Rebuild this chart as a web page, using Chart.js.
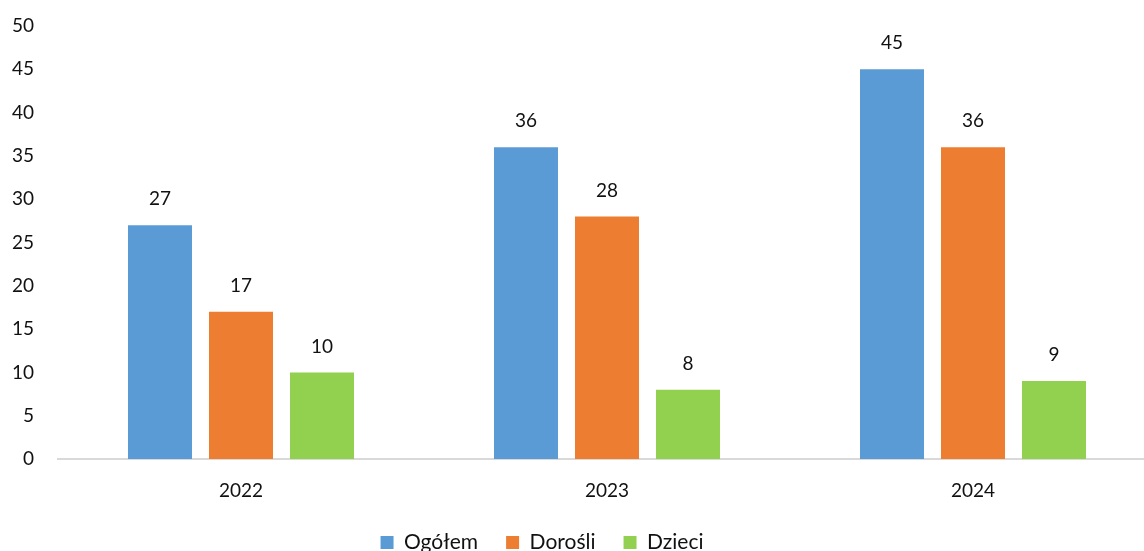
<!DOCTYPE html>
<html lang="pl">
<head>
  <meta charset="UTF-8">
  <title>Ogółem, Dorośli, Dzieci 2022-2024</title>
  <script src="https://cdn.jsdelivr.net/npm/chart.js"></script>
  <style>
    html, body {
      margin: 0;
      padding: 0;
      background: #ffffff;
      overflow: hidden;
    }
    #wrap {
      width: 1144px;
      height: 551px;
      overflow: hidden;
      position: relative;
    }
    #box {
      position: absolute;
      left: 0;
      top: 0;
      width: 1156px;
      height: 563px;
    }
  </style>
</head>
<body>
  <div id="wrap">
    <div id="box">
      <canvas id="barChart"></canvas>
    </div>
  </div>
  <script>
    const years = ['2022', '2023', '2024'];
    const ogolem = [27, 36, 45];
    const dorosli = [17, 28, 36];
    const dzieci = [10, 8, 9];

    const FONT = 'Lato, "Open Sans", sans-serif';
    const TEXT = '#111111';

    // simple value labels above bars (no datalabels plugin available offline)
    const valueLabels = {
      id: 'valueLabels',
      afterDatasetsDraw(chart) {
        const ctx = chart.ctx;
        ctx.save();
        ctx.font = '19px ' + FONT;
        ctx.fillStyle = TEXT;
        ctx.textAlign = 'center';
        ctx.textBaseline = 'middle';
        chart.data.datasets.forEach((ds, i) => {
          chart.getDatasetMeta(i).data.forEach((bar, j) => {
            ctx.fillText(ds.data[j], bar.x, bar.y - 26);
          });
        });
        ctx.restore();
      }
    };

    // legend in the original sits a bit left of the centre
    const legendShift = {
      id: 'legendShift',
      afterLayout(chart) {
        const lg = chart.legend;
        if (lg) {
          lg.left -= 36;
          lg.right -= 36;
        }
      }
    };

    new Chart(document.getElementById('barChart'), {
      type: 'bar',
      data: {
        labels: years,
        datasets: [
          { label: 'Ogółem', data: ogolem, backgroundColor: '#5B9BD5' },
          { label: 'Dorośli', data: dorosli, backgroundColor: '#ED7D31' },
          { label: 'Dzieci', data: dzieci, backgroundColor: '#92D050' }
        ]
      },
      options: {
        responsive: true,
        maintainAspectRatio: false,
        animation: false,
        datasets: {
          bar: {
            barPercentage: 0.79,
            categoryPercentage: 0.664
          }
        },
        layout: {
          padding: { top: 26, right: 0, bottom: 0, left: 0 }
        },
        scales: {
          x: {
            grid: { display: false, drawTicks: false },
            border: { display: true, color: '#d9d9d9', width: 2 },
            ticks: {
              color: TEXT,
              font: { family: FONT, size: 19 },
              padding: 20
            },
            afterFit: s => { s.height = 45; }
          },
          y: {
            min: 0,
            max: 50,
            grid: { display: false, drawTicks: false },
            border: { display: false },
            ticks: {
              stepSize: 5,
              color: TEXT,
              font: { family: FONT, size: 19 },
              padding: 24
            },
            afterFit: s => {
              s.width = 58;
              s.paddingTop = 0;
              s.paddingBottom = 0;
            }
          }
        },
        plugins: {
          legend: {
            position: 'bottom',
            labels: {
              color: TEXT,
              font: { family: FONT, size: 21 },
              boxWidth: 13,
              boxHeight: 13,
              padding: 28
            }
          },
          tooltip: { enabled: false }
        }
      },
      plugins: [valueLabels, legendShift]
    });
  </script>
</body>
</html>
